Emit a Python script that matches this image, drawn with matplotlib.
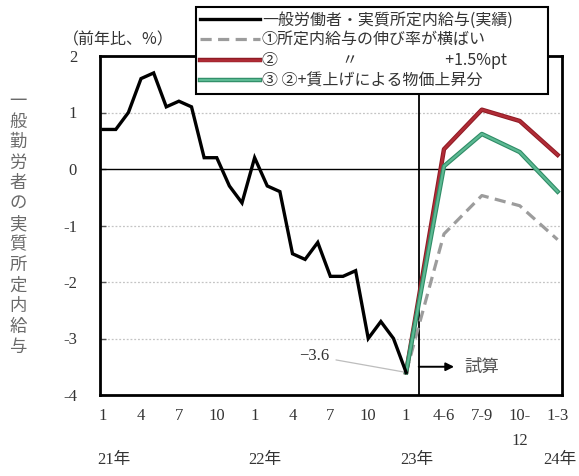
import matplotlib
matplotlib.use('Agg')
import matplotlib.pyplot as plt
import matplotlib.patheffects as pe
from matplotlib.font_manager import FontProperties
from matplotlib.transforms import blended_transform_factory

plt.rcParams['font.family'] = ['Liberation Serif', 'Noto Sans CJK JP']

# ---- data ----
# monthly actual: index 0 = 2021/1 ... index 24 = 2023/1
actual_x = list(range(25))
actual = [0.7, 0.7, 1.0, 1.6, 1.7, 1.1, 1.2, 1.1, 0.2, 0.2, -0.3, -0.6,
          0.2, -0.3, -0.4, -1.5, -1.6, -1.3, -1.9, -1.9, -1.8, -3.0, -2.7, -3.0, -3.6]
# quarterly projections: 2023/1, 4-6, 7-9, 10-12, 2024/1-3
proj_x = [24, 27, 30, 33, 36]
case1 = [-3.6, -1.15, -0.47, -0.65, -1.25]
case2 = [-3.6, 0.35, 1.05, 0.85, 0.25]
case3 = [-3.6, 0.05, 0.62, 0.30, -0.40]

xtick_pos = [0, 3, 6, 9, 12, 15, 18, 21, 24, 27, 30, 33, 36]
xtick_labels = ['1', '4', '7', '10', '1', '4', '7', '10', '1', '4-6', '7-9', '10-\n12', '1-3']
year_pos = [0, 12, 24, 36]
year_labels = ['21年', '22年', '23年', '24年']
yticks = [2, 1, 0, -1, -2, -3, -4]
ytick_labels = ['2', '1', '0', '-1', '-2', '-3', '-4']
legend_labels = ['一般労働者・実質所定内給与(実績)',
                 '①所定内給与の伸び率が横ばい',
                 '②\u3000\u3000\u3000\u3000〃\u3000\u3000\u3000\u3000\u3000  +1.5%pt',
                 '③ ②+賃上げによる物価上昇分']
ylabel_text = '一般勤労者の実質所定内給与'

W, H = 579, 476
fig = plt.figure(figsize=(W / 100, H / 100), dpi=100)
fig.patch.set_facecolor('white')
ax = fig.add_axes([100 / W, 1 - 395 / H, 462 / W, 339 / H])

ax.set_xlim(-0.25, 36.35)
ax.set_ylim(-4, 2)

# grid lines
for yv in [1, -1, -2, -3]:
    ax.axhline(yv, color='#c4c4c4', lw=0.9, ls=(0, (1.5, 1.5)), zorder=1)
ax.axhline(0, color='black', lw=1.0, zorder=2)
ax.axvline(25, color='black', lw=1.3, zorder=2)

# series
l1, = ax.plot(proj_x, case1, color='#9c9c9c', lw=2.3, ls=(0, (3.5, 2.0)), zorder=3)
l2, = ax.plot(proj_x, case2, color='#b02c36', lw=1.8, zorder=4,
              path_effects=[pe.Stroke(linewidth=3.2, foreground='#8f1a24'), pe.Normal()])
l3, = ax.plot(proj_x, case3, color='#5cb993', lw=1.6, zorder=5,
              path_effects=[pe.Stroke(linewidth=3.2, foreground='#2f8c66'), pe.Normal()])
l0, = ax.plot(actual_x, actual, color='black', lw=2.4, zorder=6, solid_joinstyle='miter')

# annotation -3.6
ax.annotate('−3.6', xy=(actual_x[-1], actual[-1]), xytext=(17.9, -3.31),
            ha='right', va='center', fontsize=12, color='#333333',
            arrowprops=dict(arrowstyle='-', color='#bdbdbd', lw=0.9,
                            shrinkA=3, shrinkB=1))
# arrow -> 試算
ax.annotate('', xy=(27.8, -3.5), xytext=(25, -3.5),
            arrowprops=dict(arrowstyle='-|>', color='black', lw=1.4,
                            mutation_scale=12, shrinkA=0, shrinkB=0))
ax.text(28.6, -3.5, '試算', ha='left', va='center', fontsize=12.5,
        color='#555555', family=['Noto Sans CJK JP'])

# axes styling
for s in ax.spines.values():
    s.set_linewidth(2.0)
    s.set_color('black')
ax.set_yticks(yticks)
ax.set_yticklabels(ytick_labels)
ax.tick_params(axis='y', direction='in', length=4, width=1, pad=16.5,
               labelsize=12, labelcolor='#333333', colors='#555555')
ax.set_xticks(xtick_pos)
ax.set_xticklabels(xtick_labels)
ax.tick_params(axis='x', length=0, pad=9.5, labelsize=12, labelcolor='#333333')
for t in ax.get_xticklabels():
    t.set_linespacing(1.7)

# year labels
trans = blended_transform_factory(ax.transData, fig.transFigure)
for xp, lab in zip(year_pos[:-1], year_labels[:-1]):
    ax.text(xp - 0.5, 1 - 460 / H, lab, transform=trans, ha='left', va='center',
            fontsize=12, color='#333333', clip_on=False)
fig.text(577 / W, 1 - 460 / H, year_labels[-1], ha='right', va='center',
         fontsize=12, color='#333333')

# unit label
fig.text(63 / W, 1 - 40 / H, '（前年比、%）', ha='left', va='center',
         fontsize=11.5, color='#333333', family=['Noto Sans CJK JP'])

# vertical y label
n = len(ylabel_text)
top_y, bot_y = 101, 347
for i, ch in enumerate(ylabel_text):
    yy = top_y + (bot_y - top_y) * i / (n - 1)
    fig.text(18 / W, 1 - yy / H, ch, ha='center', va='center', fontsize=12.5,
             color='#6a6a6a', family=['Noto Sans CJK JP'])

# legend
leg = fig.legend([l0, l1, l2, l3], legend_labels, loc='upper left',
                 bbox_to_anchor=(196 / W, 0, 352 / W, 1 - 7 / H), mode='expand',
                 borderaxespad=0, frameon=True, fancybox=False,
                 prop=FontProperties(family='Noto Sans CJK JP', size=11.5),
                 handlelength=3.7, handletextpad=0.15, labelspacing=0.22,
                 borderpad=0.28)
leg.get_frame().set_edgecolor('black')
leg.get_frame().set_linewidth(1.5)
leg.get_frame().set_alpha(1)
for t in leg.get_texts():
    t.set_color('#333333')

fig.savefig('out.png', dpi=100, facecolor='white')
